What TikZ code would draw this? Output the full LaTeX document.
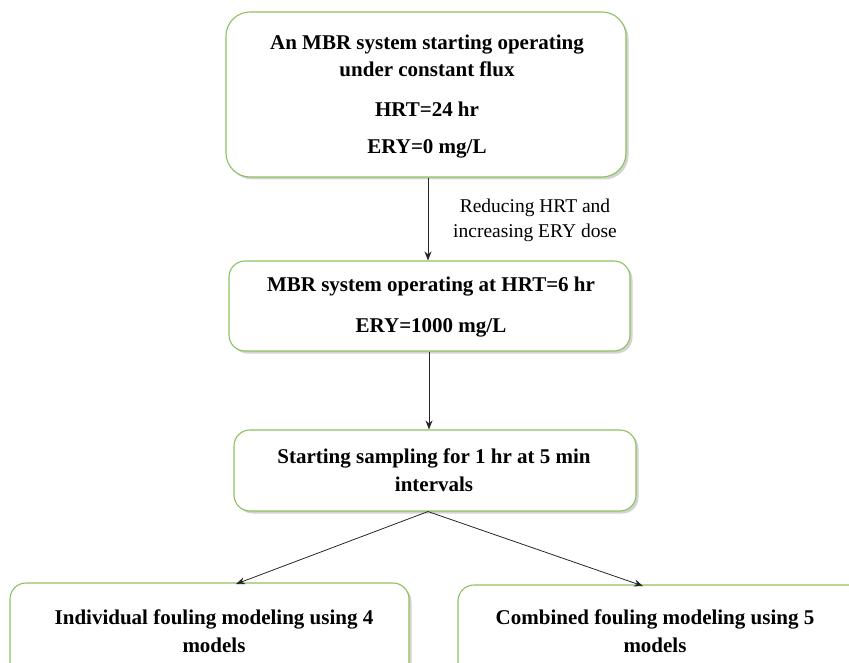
\documentclass[tikz,border=0pt]{standalone}
\usepackage{fontspec}
\setmainfont{Liberation Serif}
\usetikzlibrary{shadows,arrows.meta}
\definecolor{boxgreen}{RGB}{140,194,96}
\tikzset{
  box/.style={draw=boxgreen, line width=1.1pt, fill=white, rounded corners=16pt,
    drop shadow={shadow xshift=2.5pt, shadow yshift=-2.5pt, opacity=0.35, fill=gray}},
  txt/.style={align=center, font=\fontsize{21}{27.5}\selectfont\bfseries, inner sep=0pt},
  lbl/.style={align=center, font=\fontsize{19.5}{25}\selectfont, inner sep=0pt},
  conn/.style={draw=black!85, line width=0.8pt, -{Stealth[length=9pt,width=7pt]}}
}
\begin{document}
\begin{tikzpicture}[x=1pt,y=-1pt]
\useasboundingbox (0,0) rectangle (849,663);
\clip (0,0) rectangle (849,663);
% boxes
\node[box, rounded corners=24pt, minimum width=400pt, minimum height=165pt] (b1) at (426,94.5) {};
\node[box, minimum width=401pt, minimum height=90pt] (b2) at (429.5,306) {};
\node[box, minimum width=402pt, minimum height=81pt] (b3) at (435,470.5) {};
\node[box, minimum width=399pt, minimum height=110pt] (b4) at (209.5,638) {};
\node[box, minimum width=420pt, minimum height=110pt] (b5) at (668,640) {};
% texts
\node[txt] (t1) at (427,56) {An MBR system starting operating\\under constant flux};
\node[txt] (t1b) at (427,109) {HRT=24 hr};
\node[txt] (t1c) at (427,149) {ERY=0 mg/L};
\node[txt] (t2) at (431,287) {MBR system operating at HRT=6 hr};
\node[txt] (t2b) at (431,328) {ERY=1000 mg/L};
\node[txt] (t3) at (434,470) {Starting sampling for 1 hr at 5 min\\intervals};
\node[txt] (t4) at (214,631) {Individual fouling modeling using 4\\models};
\node[txt] (t5) at (655,631) {Combined fouling modeling using 5\\models};
\node[lbl] (l1) at (535,220) {Reducing HRT and\\increasing ERY dose};
% connectors
\coordinate (s1) at (428,177);
\coordinate (e1) at (428,261);
\coordinate (s2) at (429,352);
\coordinate (e2) at (429,430);
\coordinate (s3) at (428,511);
\coordinate (e4) at (236,584);
\coordinate (e5) at (643,586);
\draw[conn] (b1.south -| s1) -- (b2.north -| e1);
\draw[conn] (b2.south -| s2) -- (b3.north -| e2);
\draw[conn] (b3.south -| s3) -- (e4);
\draw[conn] (b3.south -| s3) -- (e5);
\end{tikzpicture}
\end{document}
